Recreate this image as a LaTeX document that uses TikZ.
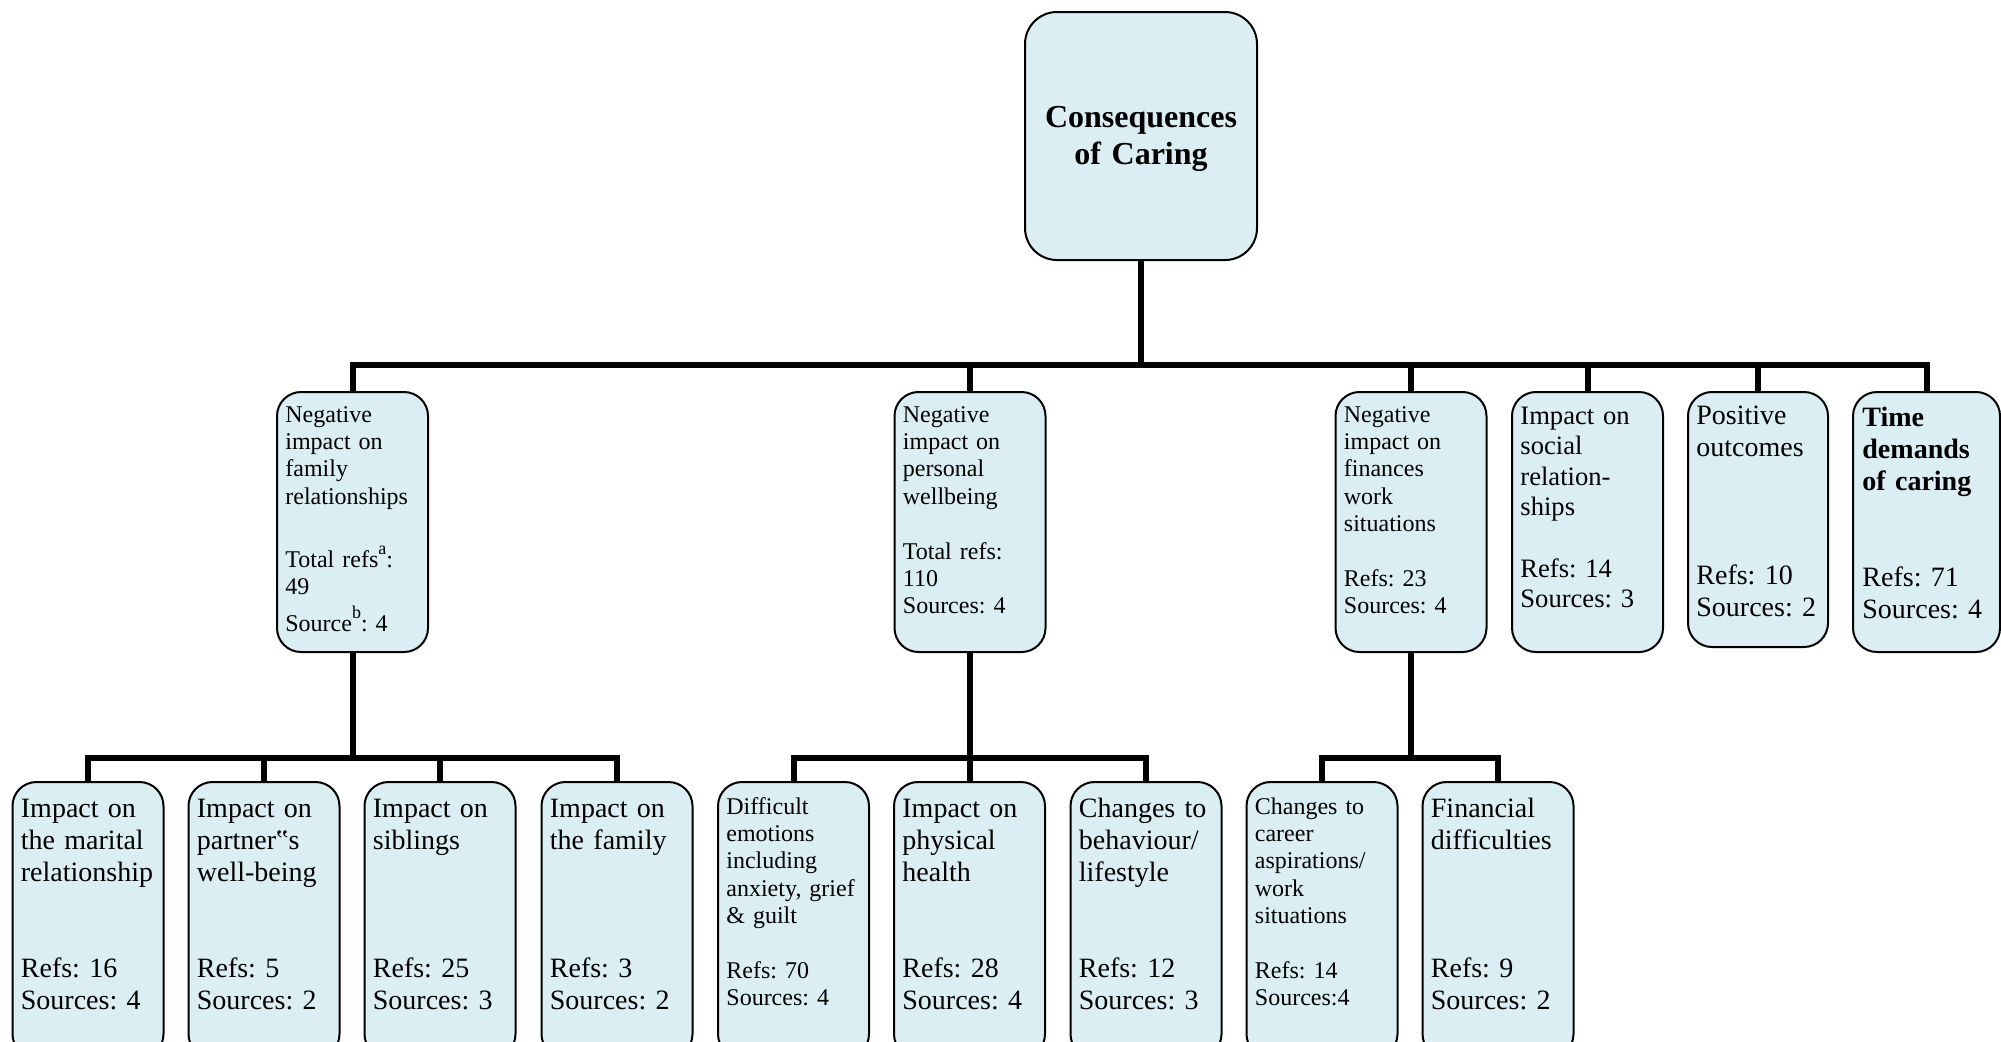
\documentclass[tikz,border=0pt]{standalone}
\usepackage{fontspec}
\setmainfont{Liberation Serif}
\usetikzlibrary{calc}
\definecolor{cardfill}{RGB}{218,238,243}
% raised footnote letter used in the family box
\newcommand\supmark[1]{\raisebox{6.5pt}{\fontsize{9pt}{9pt}\selectfont #1}}
\frenchspacing

\begin{document}
\begin{tikzpicture}[x=0.5pt,y=-0.5pt,
  card/.style={draw=black, line width=1pt, fill=cardfill, rounded corners=12pt,
               inner sep=0pt, minimum width=75.5pt, minimum height=130pt},
  lowcard/.style={card, minimum height=138pt},
  conn/.style={line width=3pt, line join=miter},
  txt/.style={anchor=base west, inner sep=0pt, text width=70pt, align=left},
  small/.style={txt, font=\frenchspacing\fontsize{12pt}{13.7pt}\selectfont},
  mid/.style={txt, font=\frenchspacing\fontsize{13.3pt}{15.3pt}\selectfont},
  large/.style={txt, font=\frenchspacing\fontsize{14pt}{16pt}\selectfont},
]
\clip (0,0) rectangle (2001,1041);
\fill[white] (0,0) rectangle (2001,1041);

% root
\node[card, minimum width=116pt, minimum height=124pt, rounded corners=16pt] (root) at (1141,136) {};
\node[anchor=base, inner sep=0pt, text width=110pt, align=center,
      font=\bfseries\fontsize{16pt}{18.5pt}\selectfont] (roottxt)
      at ($(root.north)+(0,116)$) {Consequences\\of Caring};

% second level
\node[card] (fam)  at (352.5,522) {};
\node[card] (pers) at (970,522) {};
\node[card] (fin)  at (1411,522) {};
\node[card] (soc)  at (1587.5,522) {};
\node[card, minimum width=70pt, minimum height=127.5pt] (pos) at (1758,519.5) {};
\node[card, minimum width=73.5pt] (time) at (1926.5,522) {};

\node[small] (famtxt) at ($(fam.north west)+(9,31)$)
  {Negative\\impact on\\family\\relationships\\[17.9pt]Total refs\supmark{a}:\\49\\[4.6pt]Source\supmark{b}: 4};
\node[small] (perstxt) at ($(pers.north west)+(9,31)$)
  {Negative\\impact on\\personal\\wellbeing\\[13.7pt]Total refs:\\110\\Sources: 4};
\node[small] (fintxt) at ($(fin.north west)+(9,31)$)
  {Negative\\impact on\\finances\\work\\situations\\[13.7pt]Refs: 23\\Sources: 4};
\node[mid] (soctxt) at ($(soc.north west)+(9,33)$)
  {Impact on\\social\\relation-\\ships\\[15.3pt]Refs: 14\\Sources: 3};
\node[large] (postxt) at ($(pos.north west)+(9,33)$)
  {Positive\\outcomes\\[48pt]Refs: 10\\Sources: 2};
\node[large] (timetxt) at ($(time.north west)+(10,35)$)
  {\textbf{Time}\\\textbf{demands}\\\textbf{of caring}\\[32pt]Refs: 71\\Sources: 4};

% third level
\node[lowcard] (mar)   at (88,920) {};
\node[lowcard] (part)  at (264,920) {};
\node[lowcard] (sib)   at (440,920) {};
\node[lowcard] (famly) at (617,920) {};
\node[lowcard] (emo)   at (793.5,920) {};
\node[lowcard] (phys)  at (969.5,920) {};
\node[lowcard] (beh)   at (1146,920) {};
\node[lowcard] (car)   at (1322,920) {};
\node[lowcard] (finc)  at (1498,920) {};

\node[large] (martxt) at ($(mar.north west)+(9,36)$)
  {Impact on\\the marital\\relationship\\[32pt]Refs: 16\\Sources: 4};
\node[large] (parttxt) at ($(part.north west)+(9,36)$)
  {Impact on\\partner‟s\\well-being\\[32pt]Refs: 5\\Sources: 2};
\node[large] (sibtxt) at ($(sib.north west)+(9,36)$)
  {Impact on\\siblings\\[48pt]Refs: 25\\Sources: 3};
\node[large] (famlytxt) at ($(famly.north west)+(9,36)$)
  {Impact on\\the family\\[48pt]Refs: 3\\Sources: 2};
\node[small] (emotxt) at ($(emo.north west)+(9,33)$)
  {Difficult\\emotions\\including\\anxiety, grief\\\& guilt\\[13.7pt]Refs: 70\\Sources: 4};
\node[large] (physt) at ($(phys.north west)+(9,36)$)
  {Impact on\\physical\\health\\[32pt]Refs: 28\\Sources: 4};
\node[large] (behtxt) at ($(beh.north west)+(9,36)$)
  {Changes to\\behaviour/\\lifestyle\\[32pt]Refs: 12\\Sources: 3};
\node[small] (cartxt) at ($(car.north west)+(9,33)$)
  {Changes to\\career\\aspirations/\\work\\situations\\[13.7pt]Refs: 14\\Sources:4};
\node[large] (finctxt) at ($(finc.north west)+(9,36)$)
  {Financial\\difficulties\\[48pt]Refs: 9\\Sources: 2};

% elbow connectors
\foreach \c in {fam,pers,fin,soc,pos,time}
  \draw[conn] (root.south) |- ($(\c.north)+(0,-26)$) -- (\c.north);
\foreach \c in {mar,part,sib,famly}
  \draw[conn] (fam.south) |- ($(\c.north)+(0,-23)$) -- (\c.north);
\foreach \c in {emo,phys,beh}
  \draw[conn] (pers.south) |- ($(\c.north)+(0,-23)$) -- (\c.north);
\foreach \c in {car,finc}
  \draw[conn] (fin.south) |- ($(\c.north)+(0,-23)$) -- (\c.north);
\end{tikzpicture}
\end{document}
